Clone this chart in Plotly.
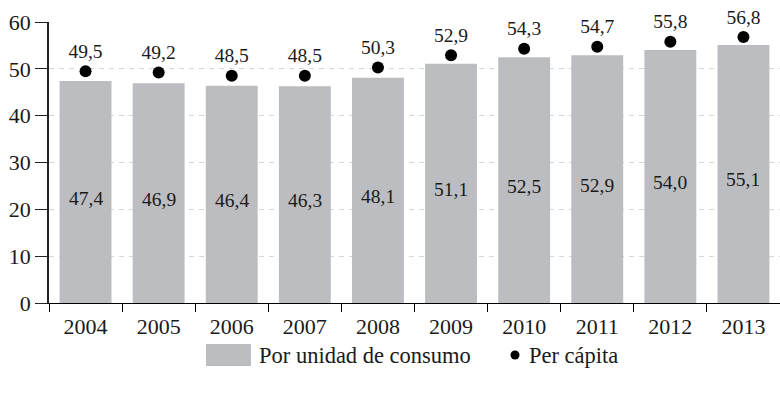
import plotly.graph_objects as go

# Renta media anual (miles de euros), 2004-2013
years = ["2004", "2005", "2006", "2007", "2008", "2009", "2010", "2011", "2012", "2013"]
por_unidad_consumo = [47.4, 46.9, 46.4, 46.3, 48.1, 51.1, 52.5, 52.9, 54.0, 55.1]
per_capita = [49.5, 49.2, 48.5, 48.5, 50.3, 52.9, 54.3, 54.7, 55.8, 56.8]
y_ticks = [0, 10, 20, 30, 40, 50, 60]

FONT = "'Liberation Serif', 'Times New Roman', 'DejaVu Serif', serif"
BAR_COLOR = "#bcbdc0"
INK = "#1a1a1a"

W, H = 780, 394
ML, MR, MT, MB = 49, 0, 22, 91


def fmt(v):
    return f"{v:.1f}".replace(".", ",")


fig = go.Figure()

fig.add_trace(go.Bar(
    x=years,
    y=por_unidad_consumo,
    width=0.71,
    marker=dict(color=BAR_COLOR, line=dict(width=0)),
    name="Por unidad de consumo",
    showlegend=False,
    hoverinfo="skip",
))

fig.add_trace(go.Scatter(
    x=years,
    y=per_capita,
    mode="markers+text",
    marker=dict(color="black", size=12),
    text=[fmt(v) for v in per_capita],
    textposition="top center",
    textfont=dict(family=FONT, size=19.5, color=INK),
    cliponaxis=False,
    name="Per cápita",
    showlegend=False,
    hoverinfo="skip",
))

# value labels inside the bars (category index positions)
annotations = []
for i, v in enumerate(por_unidad_consumo):
    annotations.append(dict(
        x=i, y=v / 2, xref="x", yref="y",
        text=fmt(v), showarrow=False, yshift=-6,
        font=dict(family=FONT, size=19.5, color=INK),
    ))

# legend drawn below the plot area
plot_w = W - ML - MR
plot_h = H - MT - MB


def px_x(p):
    return (p - ML) / plot_w


def px_y(p):
    return (H - MB - p) / plot_h


shapes = [
    dict(type="rect", xref="paper", yref="paper",
         x0=px_x(206), x1=px_x(251), y0=px_y(366), y1=px_y(344),
         fillcolor=BAR_COLOR, line=dict(width=0)),
    dict(type="circle", xref="paper", yref="paper",
         x0=px_x(510.5), x1=px_x(519.5), y0=px_y(359.5), y1=px_y(350.5),
         fillcolor="black", line=dict(width=0)),
]
annotations += [
    dict(x=px_x(257), y=px_y(355), xref="paper", yref="paper",
         text="Por unidad de consumo", showarrow=False,
         xanchor="left", yanchor="middle",
         font=dict(family=FONT, size=22.5, color=INK)),
    dict(x=px_x(527), y=px_y(355), xref="paper", yref="paper",
         text="Per cápita", showarrow=False,
         xanchor="left", yanchor="middle",
         font=dict(family=FONT, size=22.5, color=INK)),
]

fig.update_layout(
    width=W, height=H,
    margin=dict(l=ML, r=MR, t=MT, b=MB, pad=0),
    paper_bgcolor="white",
    plot_bgcolor="white",
    showlegend=False,
    bargap=0.29,
    font=dict(family=FONT, color=INK),
    shapes=shapes,
    annotations=annotations,
    xaxis=dict(
        type="category",
        range=[-0.5, 9.5],
        showline=True, linecolor="black", linewidth=1.2,
        ticks="outside", ticklen=8, tickcolor="black", tickwidth=1.2,
        tickson="boundaries",
        ticklabelstandoff=3,
        showgrid=False, zeroline=False,
        tickfont=dict(family=FONT, size=22, color=INK),
        layer="below traces",
        fixedrange=True,
    ),
    yaxis=dict(
        range=[0, 60],
        tickvals=y_ticks,
        ticktext=[str(t) for t in y_ticks],
        showline=True, linecolor="#222", linewidth=1.5,
        ticks="outside", ticklen=12, tickcolor="#222", tickwidth=1.2,
        showgrid=True, gridcolor="#d6d6d6", gridwidth=1, griddash="5px,5px",
        zeroline=False,
        tickfont=dict(family=FONT, size=22, color=INK),
        fixedrange=True,
    ),
)

fig.write_html("out.html")
